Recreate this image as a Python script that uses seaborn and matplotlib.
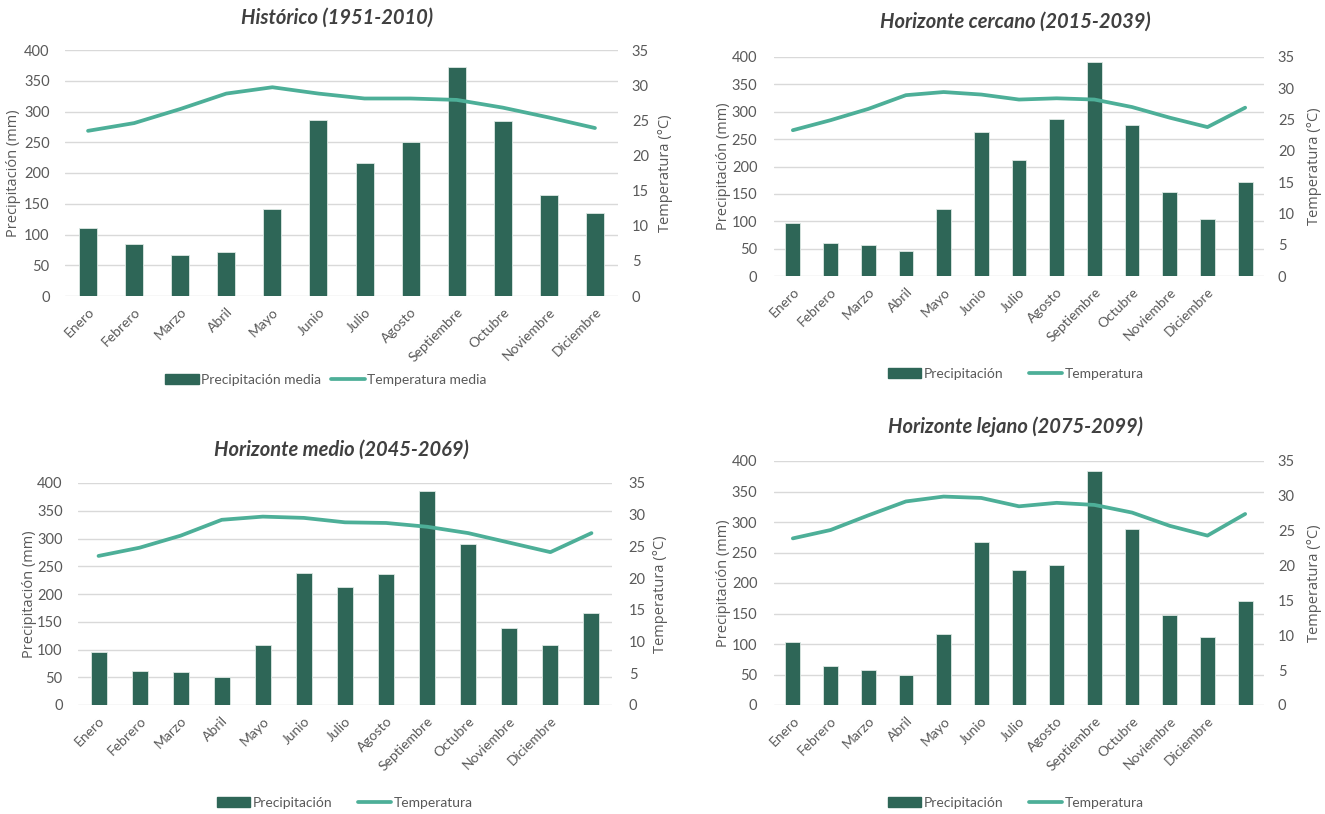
import matplotlib
matplotlib.use('Agg')
import matplotlib.pyplot as plt
import seaborn as sns
from matplotlib.patches import Patch
from matplotlib.lines import Line2D

# Datos
meses = ['Enero', 'Febrero', 'Marzo', 'Abril', 'Mayo', 'Junio', 'Julio',
         'Agosto', 'Septiembre', 'Octubre', 'Noviembre', 'Diciembre']

hist_prec = [111, 84, 66, 72, 142, 286, 217, 250, 372, 284, 165, 135]
hist_temp = [23.5, 24.6, 26.6, 28.8, 29.7, 28.8, 28.1, 28.1, 27.9, 26.8, 25.4, 23.9]

cerc_prec = [96, 60, 57, 46, 122, 263, 212, 287, 390, 276, 153, 105, 172]
cerc_temp = [23.3, 24.9, 26.7, 28.9, 29.4, 29.0, 28.2, 28.4, 28.2, 27.0, 25.3, 23.8, 26.9]

medio_prec = [96, 61, 60, 50, 109, 237, 212, 236, 385, 290, 139, 108, 165]
medio_temp = [23.5, 24.8, 26.7, 29.2, 29.7, 29.5, 28.8, 28.7, 28.1, 27.1, 25.6, 24.1, 27.1]

lej_prec = [103, 64, 58, 49, 116, 267, 222, 230, 384, 288, 148, 111, 170]
lej_temp = [23.9, 25.1, 27.2, 29.2, 29.9, 29.7, 28.5, 29.0, 28.7, 27.6, 25.7, 24.3, 27.4]

prec_ticks = list(range(0, 401, 50))
temp_ticks = list(range(0, 36, 5))

BAR = '#2E6657'
LINE = '#4DAF98'
TXT = '#595959'
GRID = '#D9D9D9'

sns.set_style('white')
plt.rcParams['font.family'] = ['Lato', 'DejaVu Sans']

W, H = 1325, 814
fig = plt.figure(figsize=(W / 100, H / 100), dpi=100)


def panel(box, title, title_pos, prec, temp, labels, yl_left, yl_right,
          leg_pos, leg_names, colspace, lpad, rpad):
    l, t, r, b = box
    ax = fig.add_axes([l / W, 1 - b / H, (r - l) / W, (b - t) / H])
    n = len(prec)
    idx = list(range(n))

    sns.barplot(x=idx, y=prec, ax=ax, color=BAR, width=0.39, saturation=1,
                edgecolor='#DDE8E4', linewidth=0.6)
    ax.set_ylim(0, 400)
    ax.set_yticks(prec_ticks)
    ax.grid(axis='y', color=GRID, lw=1)
    ax.set_axisbelow(True)
    for s in ax.spines.values():
        s.set_visible(False)

    ax2 = ax.twinx()
    sns.lineplot(x=idx, y=temp, ax=ax2, color=LINE, lw=2.7)
    ax2.set_ylim(0, 35)
    ax2.set_yticks(temp_ticks)
    for s in ax2.spines.values():
        s.set_visible(False)
    ax.set_xlim(-0.5, n - 0.5)

    ax.set_xticks(idx)
    ax.set_xticklabels(labels + [''] * (n - len(labels)), rotation=45,
                       ha='right', rotation_mode='anchor', fontsize=10, color=TXT)
    ax.tick_params(axis='x', length=0, pad=7)
    ax.tick_params(axis='y', length=0, pad=lpad, labelsize=10.5, labelcolor=TXT)
    ax2.tick_params(axis='y', length=0, pad=rpad, labelsize=10.5, labelcolor=TXT)
    ax.set_xlabel('')

    # posiciones de los titulos de eje en pixeles de la figura
    ax.set_ylabel('Precipitación (mm)', fontsize=10.5, color=TXT,
                  family=['Open Sans', 'DejaVu Sans'])
    ax.yaxis.set_label_coords((yl_left + 7 - l) / (r - l), 0.5)
    ax2.set_ylabel('Temperatura (°C)', fontsize=10.5, color=TXT,
                   family=['Open Sans', 'DejaVu Sans'], rotation=90)
    ax2.yaxis.set_label_coords((yl_right - 7 - l) / (r - l), 0.5)

    fig.text(title_pos[0] / W, 1 - title_pos[1] / H, title, ha='center', va='center',
             fontsize=14.5, fontweight='bold', style='italic', color='#404040')

    handles = [Patch(facecolor=BAR, edgecolor=BAR),
               Line2D([], [], color=LINE, lw=2.7)]
    fig.legend(handles, leg_names, loc='center',
               bbox_to_anchor=(leg_pos[0] / W, 1 - leg_pos[1] / H), ncol=2,
               frameon=False, fontsize=10, labelcolor=TXT, handlelength=2.4,
               handleheight=0.75, handletextpad=0.2, columnspacing=colspace)


panel((65, 50, 618, 296), 'Histórico (1951-2010)', (337, 18), hist_prec, hist_temp,
      meses, 14, 665, (326, 380), ['Precipitación media', 'Temperatura media'], 0.7, 11, 10)
panel((774, 57, 1264, 276), 'Horizonte cercano (2015-2039)', (1015, 22), cerc_prec,
      cerc_temp, meses, 724, 1314, (1016, 374), ['Precipitación', 'Temperatura'], 1.8, 12, 10)
panel((78, 483, 612, 705), 'Horizonte medio (2045-2069)', (341, 450), medio_prec,
      medio_temp, meses, 30, 660, (345, 803), ['Precipitación', 'Temperatura'], 1.8, 11, 12)
panel((774, 461, 1264, 705), 'Horizonte lejano (2075-2099)', (1015, 427), lej_prec,
      lej_temp, meses, 724, 1314, (1016, 803), ['Precipitación', 'Temperatura'], 1.8, 12, 10)

fig.savefig('out.png', dpi=100, facecolor='white')
